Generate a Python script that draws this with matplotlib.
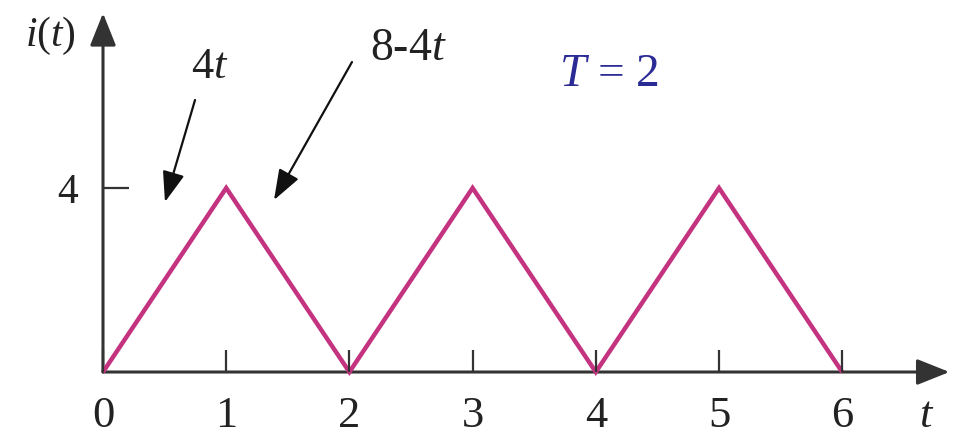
import numpy as np
import matplotlib
matplotlib.use('Agg')
import matplotlib.pyplot as plt

# 字体：Times 风格的衬线字体，变量用斜体
plt.rcParams['font.family'] = 'Liberation Serif'
plt.rcParams['mathtext.fontset'] = 'custom'
plt.rcParams['mathtext.rm'] = 'Liberation Serif'
plt.rcParams['mathtext.it'] = 'Liberation Serif:italic'

# 三角波顶点 (t, i)
t_pts = [0, 1, 2, 3, 4, 5, 6]
i_pts = [0, 4, 0, 4, 0, 4, 0]
xticks = [0, 1, 2, 3, 4, 5, 6]
xlabels = ['0', '1', '2', '3', '4', '5', '6']
yticks = [4]
ylabels = ['4']

wave_color = '#c4337f'
axis_color = '#333333'

fig = plt.figure(figsize=(9.59, 4.36), dpi=100)
ax = fig.add_axes([0, 0, 1, 1])
ax.set_xlim(-0.836, 6.948)
ax.set_ylim(-1.391, 8.087)

# 坐标轴：隐藏边框，只保留刻度，用箭头画轴线
for s in ['top', 'right', 'left', 'bottom']:
    ax.spines[s].set_visible(False)
ax.spines['left'].set_position(('data', 0))
ax.spines['bottom'].set_position(('data', 0))
ax.set_axisbelow(False)

ax.set_xticks(xticks, xlabels)
ax.set_yticks(yticks, ylabels)
ax.tick_params(axis='x', direction='in', length=16, width=1.6, color=axis_color,
               pad=17, labelsize=32, labelcolor='#222222')
ax.tick_params(axis='y', direction='in', length=19, width=1.6, color=axis_color,
               pad=18, labelsize=30, labelcolor='#222222')

head = '-|>,head_length=1.0,head_width=0.4'
ax.annotate('', xy=(6.87, 0), xytext=(0, 0),
            arrowprops=dict(arrowstyle=head, mutation_scale=20, lw=2.2,
                            color=axis_color, shrinkA=0, shrinkB=0), zorder=1)
ax.annotate('', xy=(0, 7.8), xytext=(0, 0),
            arrowprops=dict(arrowstyle=head, mutation_scale=20, lw=2.2,
                            color=axis_color, shrinkA=0, shrinkB=0), zorder=1)

# 三角波
ax.plot(t_pts, i_pts, color=wave_color, lw=3.2, solid_joinstyle='miter',
        solid_capstyle='butt', zorder=2)

# 文字标注
ax.text(-0.43, 7.3, '$i(t)$', fontsize=30, ha='center', va='center', color='#222222')
ax.text(6.688, -0.95, '$t$', fontsize=32, ha='center', va='center', color='#222222')
ax.text(0.868, 6.63, '$4t$', fontsize=32, ha='center', va='center', color='#222222')
ax.text(2.476, 7.02, '8-4$t$', fontsize=33, ha='center', va='center', color='#222222')
ax.text(4.107, 6.457, '$T$ = 2', fontsize=34, ha='center', va='center', color='#2b2b96')

small = '-|>,head_length=1.1,head_width=0.4'
ax.annotate('', xy=(0.503, 3.696), xytext=(0.747, 5.913),
            arrowprops=dict(arrowstyle=small, mutation_scale=17, lw=1.6,
                            color='#111111', shrinkA=0, shrinkB=0))
ax.annotate('', xy=(1.388, 3.739), xytext=(2.021, 6.739),
            arrowprops=dict(arrowstyle=small, mutation_scale=17, lw=1.6,
                            color='#111111', shrinkA=0, shrinkB=0))

fig.savefig('out.png', dpi=100, facecolor='white')
